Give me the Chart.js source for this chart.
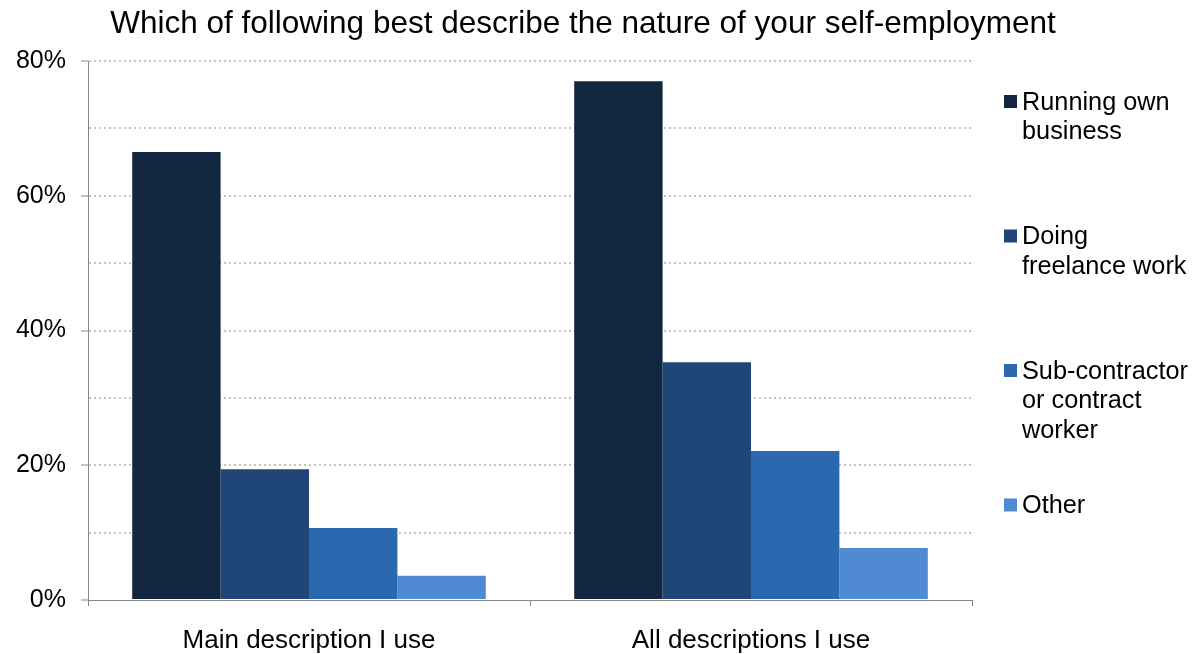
<!DOCTYPE html>
<html>
<head>
<meta charset="utf-8">
<script src="https://cdn.jsdelivr.net/npm/chart.js@4.4.0/dist/chart.umd.min.js"></script>
<style>
  html, body { margin: 0; padding: 0; background: #ffffff; }
</style>
</head>
<body>
<canvas id="grafico" width="1198" height="654"></canvas>
<script>
// dados
const titulo = 'Which of following best describe the nature of your self-employment';
const categorias = ['Main description I use', 'All descriptions I use'];
const nomesSeries = ['Running own business', 'Doing freelance work', 'Sub-contractor or contract worker', 'Other'];
const linhasLegenda = [['Running own', 'business'], ['Doing', 'freelance work'], ['Sub-contractor', 'or contract', 'worker'], ['Other']];
const cores = ['#13263f', '#1f4677', '#2c68b0', '#4f8ad3'];
const valoresNegocio = [66.5, 77.0];
const valoresFreelance = [19.4, 35.3];
const valoresSubcontrato = [10.7, 22.1];
const valoresOutro = [3.6, 7.7];
const valoresSeries = [valoresNegocio, valoresFreelance, valoresSubcontrato, valoresOutro];

const fonte = '"Liberation Sans", Arial, Helvetica, sans-serif';
Chart.defaults.font.family = fonte;
Chart.defaults.color = '#000000';

// título e legenda desenhados à mão (a legenda tem texto em várias linhas)
const tituloLegenda = {
  id: 'tituloLegenda',
  afterDraw(chart) {
    const ctx = chart.ctx;
    ctx.save();
    ctx.fillStyle = '#000000';
    ctx.font = '31.5px ' + fonte;
    ctx.textAlign = 'center';
    ctx.textBaseline = 'alphabetic';
    ctx.fillText(titulo, 583, 33);

    ctx.font = '25.3px ' + fonte;
    ctx.textAlign = 'left';
    ctx.textBaseline = 'middle';
    chart.data.datasets.forEach((ds, i) => {
      const y = 102 + i * 134.5;
      ctx.fillStyle = ds.backgroundColor;
      ctx.fillRect(1004, y - 7, 13, 13);
      ctx.fillStyle = '#000000';
      linhasLegenda[i].forEach((linha, j) => ctx.fillText(linha, 1022, y + 1 + j * 29.5));
    });
    ctx.restore();
  }
};

const datasets = valoresSeries.map((valores, i) => ({
  label: nomesSeries[i],
  data: valores,
  backgroundColor: cores[i],
  borderWidth: 0,
  categoryPercentage: 0.8,
  barPercentage: 1.0
}));

new Chart(document.getElementById('grafico').getContext('2d'), {
  type: 'bar',
  data: { labels: categorias, datasets: datasets },
  plugins: [tituloLegenda],
  options: {
    responsive: false,
    animation: false,
    layout: { padding: { top: 61, right: 226, left: 0, bottom: 0 } },
    plugins: {
      legend: { display: false },
      title: { display: false },
      tooltip: { enabled: false }
    },
    scales: {
      x: {
        afterFit: (scale) => { scale.height = 54; },
        grid: {
          drawOnChartArea: false,
          drawTicks: true,
          tickLength: 6,
          tickColor: '#868686',
          offset: true
        },
        border: { color: '#868686', width: 1 },
        ticks: { font: { size: 26 }, padding: 19, color: '#000000' }
      },
      y: {
        min: 0,
        max: 80,
        afterFit: (scale) => { scale.width = 88; },
        grid: {
          color: (c) => c.tick && c.tick.value === 0 ? 'transparent' : '#c4c4c4',
          lineWidth: 2,
          tickLength: 7,
          tickWidth: 1,
          tickColor: (c) => c.tick && c.tick.value % 20 === 0 ? '#868686' : 'transparent',
          tickBorderDash: []
        },
        border: { color: '#868686', width: 1, dash: [2, 3] },
        ticks: {
          stepSize: 10,
          padding: 15,
          font: { size: 25 },
          color: '#000000',
          callback: (v) => v % 20 === 0 ? v + '%' : ''
        }
      }
    }
  }
});
</script>
</body>
</html>
